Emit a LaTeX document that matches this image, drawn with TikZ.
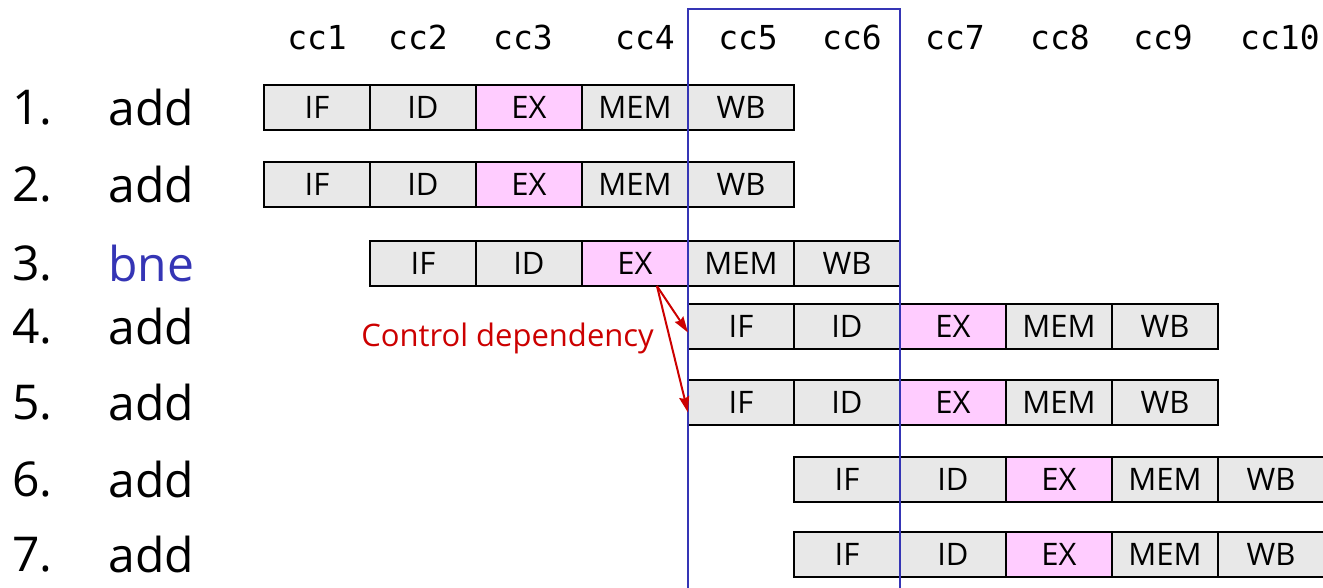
\documentclass[tikz,border=0pt]{standalone}
\usepackage{fontspec}
\setmainfont{Open Sans}
\setmonofont{DejaVu Sans Mono}
\usetikzlibrary{arrows.meta,positioning}

\definecolor{stagegray}{HTML}{E8E8E8}
\definecolor{expink}{HTML}{FFCCFF}
\definecolor{winblue}{HTML}{3535B5}
\definecolor{depred}{HTML}{CC0000}

\tikzset{
  stage/.style={draw, line width=1pt, fill=stagegray, minimum width=53pt,
    minimum height=22.5pt, inner sep=0pt, outer sep=0pt, font=\fontsize{15.5}{15.5}\selectfont},
  exstage/.style={stage, fill=expink},
  instr/.style={anchor=west, inner sep=0pt, font=\fontsize{24}{24}\selectfont},
  clock/.style={inner sep=0pt, font=\ttfamily\fontsize{16.5}{16.5}\selectfont},
  deparrow/.style={draw=depred, line width=1pt, -{Stealth[length=8pt,width=5pt,inset=1pt]}},
}

% one instruction in the pipe: name, first cycle, y of the row
\newcommand{\pipeline}[3]{%
  \node[stage, anchor=west] (#1IF) at ({1.49+#2},#3) {IF};
  \node[stage, right=0pt of #1IF] (#1ID) {ID};
  \node[exstage, right=0pt of #1ID] (#1EX) {EX};
  \node[stage, right=0pt of #1EX] (#1MEM) {MEM};
  \node[stage, right=0pt of #1MEM] (#1WB) {WB};
}

\begin{document}
\begin{tikzpicture}[x=53pt,y=53pt]
  \useasboundingbox (0,0) rectangle (12.481,-5.538);

  % clock cycles
  \foreach \x [count=\c] in {2.991,3.943,4.934,6.085,7.057,8.038,9.009,10.0,10.972,12.075}
    \node[clock] (cc\c) at (\x,-0.358) {cc\c};

  % instructions
  \node[instr] (n1) at (0.113,-1.014) {1.};
  \node[instr] (i1) at (1.019,-1.014) {add};
  \node[instr] (n2) at (0.113,-1.741) {2.};
  \node[instr] (i2) at (1.019,-1.741) {add};
  \node[instr] (n3) at (0.113,-2.486) {3.};
  \node[instr, text=winblue] (i3) at (1.019,-2.486) {bne};
  \node[instr] (n4) at (0.113,-3.080) {4.};
  \node[instr] (i4) at (1.019,-3.080) {add};
  \node[instr] (n5) at (0.113,-3.797) {5.};
  \node[instr] (i5) at (1.019,-3.797) {add};
  \node[instr] (n6) at (0.113,-4.524) {6.};
  \node[instr] (i6) at (1.019,-4.524) {add};
  \node[instr] (n7) at (0.113,-5.231) {7.};
  \node[instr] (i7) at (1.019,-5.231) {add};

  % pipeline stages
  \pipeline{r1}{1}{-1.014}
  \pipeline{r2}{1}{-1.741}
  \pipeline{r3}{2}{-2.486}
  \pipeline{r4}{5}{-3.080}
  \pipeline{r5}{5}{-3.797}
  \pipeline{r6}{6}{-4.524}
  \pipeline{r7}{6}{-5.231}

  % cycles 5 and 6
  \draw[winblue, line width=0.8pt] (6.49,-5.7) -- (6.49,-0.085) -- (8.49,-0.085) -- (8.49,-5.7);

  % branch outcome
  \node[text=depred, font=\fontsize{15.5}{15.5}\selectfont] (ctrl) at (4.788,-3.19) {Control dependency};
  \draw[deparrow] ([xshift=11pt]r3EX.south) -- ([yshift=-3pt]r4IF.west);
  \draw[deparrow] ([xshift=11pt]r3EX.south) -- ([yshift=-5pt]r5IF.west);
\end{tikzpicture}
\end{document}
